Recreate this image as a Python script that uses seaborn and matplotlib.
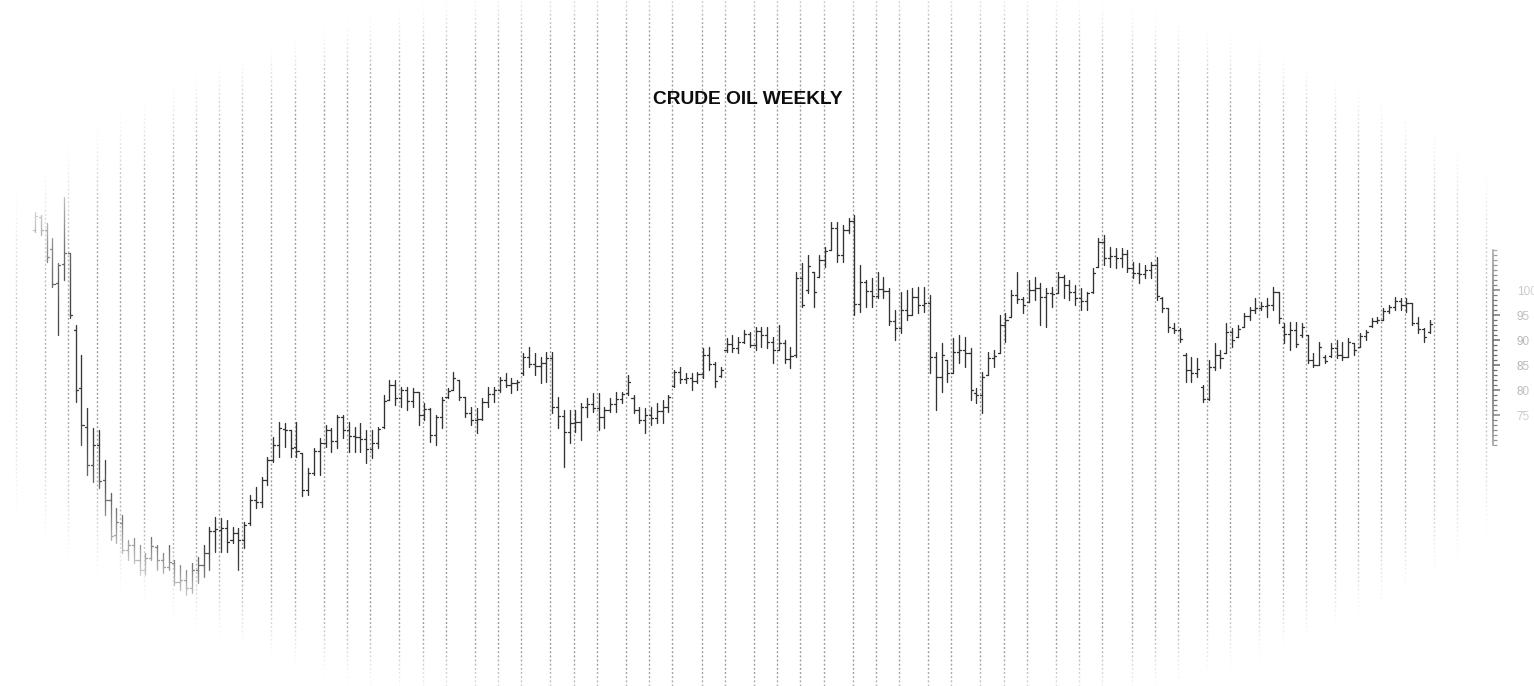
import numpy as np
import pandas as pd
import matplotlib
matplotlib.use("Agg")
import matplotlib.pyplot as plt
import seaborn as sns

TITLE = "CRUDE OIL WEEKLY"
FIRST_WEEK = "2008-08-22"

OPEN = [112.0,114.6,112.0,108.2,101.4,105.2,107.4,92.0,80.4,72.6,
        65.0,69.0,62.0,58.0,51.0,53.4,48.0,49.0,46.0,44.0,
        46.4,48.6,46.0,44.6,45.4,41.6,42.0,40.4,44.0,45.0,
        47.4,51.8,52.0,52.4,50.0,51.4,50.0,53.4,58.0,57.6,
        62.0,66.0,69.0,72.2,72.0,68.6,67.4,60.0,63.4,67.8,
        69.4,72.0,69.8,74.6,72.0,70.8,70.6,70.2,68.2,69.4,
        72.6,78.0,81.0,78.4,80.0,77.8,79.6,75.0,76.2,71.0,
        74.6,78.6,80.0,82.0,78.6,75.4,74.0,74.2,77.6,79.2,
        80.0,82.0,81.0,81.4,83.4,86.6,85.2,84.8,85.4,86.4,
        76.6,74.8,71.6,73.4,73.6,76.6,77.2,76.4,74.6,76.0,
        77.2,78.2,79.4,78.4,76.0,74.0,75.0,74.4,75.8,76.6,
        80.8,83.6,82.2,82.4,81.8,83.2,87.0,85.2,82.8,88.0,
        89.2,88.4,89.6,91.2,89.0,91.8,91.0,89.6,88.0,89.4,
        86.2,87.0,102.4,100.0,103.6,102.6,106.0,108.0,112.4,107.0,
        112.0,113.8,97.2,101.6,99.8,98.8,100.2,99.8,93.8,92.4,
        96.0,95.0,98.6,97.0,97.4,86.6,82.6,86.0,83.4,87.6,
        88.0,87.4,79.4,79.0,83.0,86.4,87.4,93.0,94.6,99.0,
        98.2,97.6,100.0,100.4,98.6,99.4,99.4,102.6,101.0,99.6,
        98.4,97.8,99.6,104.6,109.6,106.4,106.8,106.4,107.2,104.4,
        103.4,103.2,104.0,105.0,98.4,96.4,92.4,92.0,87.0,84.0,
        83.4,80.6,78.2,84.6,87.0,87.4,91.6,90.6,92.6,94.8,
        96.0,96.4,96.8,97.0,99.6,92.6,91.2,92.0,91.0,91.0,
        86.0,85.0,86.6,86.8,88.4,87.0,86.6,89.4,88.6,90.8,
        92.8,93.8,94.0,95.8,96.6,97.8,97.0,97.4,93.4,92.2,
        91.6]

HIGH = [115.6,115.0,113.4,110.4,105.4,118.6,107.4,93.0,87.0,76.4,
        72.4,72.0,66.0,59.4,56.4,55.0,50.0,50.4,49.0,47.4,
        50.6,49.0,47.4,49.0,46.0,45.0,44.0,45.4,46.6,49.0,
        52.6,54.6,54.4,54.0,52.6,52.4,53.6,59.0,60.6,62.6,
        66.6,70.6,73.6,73.4,72.0,73.6,67.4,64.4,68.4,70.4,
        73.0,72.4,75.0,75.0,73.6,72.6,73.4,72.0,72.0,72.6,
        79.0,82.0,82.0,80.6,80.6,80.4,79.6,77.4,76.4,75.0,
        78.6,80.4,83.6,82.0,78.6,76.6,76.4,78.4,80.6,80.6,
        82.6,83.4,82.4,82.0,87.4,88.6,87.4,86.6,87.6,87.6,
        78.6,76.0,76.0,76.0,77.4,78.4,79.4,79.4,76.6,78.4,
        79.6,79.6,83.0,79.0,76.6,76.4,76.6,77.4,78.0,79.0,
        84.0,84.6,83.4,83.4,83.6,88.4,88.6,85.6,84.6,90.4,
        91.0,90.6,92.0,91.6,92.6,92.6,92.6,90.6,93.0,90.0,
        88.6,103.6,105.4,107.0,103.6,107.0,108.6,113.6,113.6,113.0,
        114.4,115.0,105.0,102.0,102.4,103.6,102.6,100.4,96.0,99.6,
        100.0,100.4,100.6,100.6,99.0,87.6,89.4,86.0,90.4,91.0,
        90.6,88.4,80.4,83.6,87.6,88.0,95.0,95.4,100.0,103.6,
        98.6,102.0,102.6,101.4,100.4,100.6,103.6,103.0,102.0,101.0,
        100.4,99.6,104.4,110.4,111.0,108.6,108.4,108.4,108.0,105.6,
        105.4,105.0,105.6,106.6,98.6,96.4,93.4,92.4,87.4,86.6,
        86.4,81.0,86.0,89.4,88.0,93.4,92.4,93.0,95.4,96.6,
        98.4,97.6,98.4,100.6,99.6,93.4,93.6,93.6,93.4,91.0,
        87.4,89.6,87.0,89.4,90.0,89.6,90.4,89.4,91.4,92.0,
        94.4,94.6,96.4,97.0,98.6,98.4,98.4,97.4,94.6,92.4,
        94.0]

LOW = [111.6,111.0,105.6,100.6,91.0,102.0,94.4,77.6,69.0,63.0,
       61.6,60.4,55.0,50.0,49.4,47.4,46.0,45.4,43.0,43.0,
       46.0,44.0,43.4,44.0,41.0,40.0,39.0,39.4,41.4,42.6,
       44.0,47.6,47.6,47.6,49.4,44.0,48.4,53.0,56.4,56.6,
       61.0,65.6,66.6,68.6,66.6,66.6,58.8,59.0,63.0,63.0,
       68.6,67.6,68.4,70.4,67.6,67.6,67.6,65.4,66.4,68.4,
       72.4,78.0,77.0,76.6,76.0,76.6,73.0,74.0,69.6,69.0,
       72.4,78.4,80.0,78.0,74.6,73.0,71.4,74.0,76.6,77.6,
       79.6,80.6,79.4,80.0,83.0,84.6,83.0,81.4,81.6,75.4,
       72.4,64.6,69.4,71.6,70.0,74.6,75.6,72.0,72.4,75.6,
       75.6,77.4,79.0,75.4,73.4,71.4,73.0,73.4,73.4,75.6,
       80.6,81.4,81.4,80.0,81.4,82.4,84.0,80.6,82.6,87.6,
       87.6,87.4,89.4,88.6,88.0,88.6,88.4,85.4,88.0,85.4,
       84.4,86.6,96.6,99.4,96.6,102.6,104.6,108.0,105.6,105.6,
       111.4,95.0,95.6,96.6,96.6,98.4,98.4,93.0,90.0,91.4,
       94.0,95.0,95.4,95.6,83.4,76.0,79.6,81.6,83.6,85.4,
       84.6,78.0,77.4,75.4,83.0,84.6,87.4,89.6,94.6,97.4,
       95.4,97.6,98.0,93.0,92.6,96.6,99.4,98.4,98.0,97.0,
       96.0,96.0,99.4,104.6,105.0,104.6,104.4,104.6,103.6,102.4,
       101.4,102.4,102.4,98.0,95.6,91.6,91.4,89.6,81.6,81.6,
       82.6,77.6,78.0,84.0,84.4,87.4,88.6,90.6,92.6,94.0,
       95.4,96.0,94.6,96.0,93.4,89.4,88.0,88.6,90.6,85.4,
       84.6,85.0,85.4,86.6,86.4,86.0,86.6,87.0,88.6,90.0,
       92.6,93.4,94.0,95.4,96.0,96.0,95.6,93.0,91.4,89.6,
       91.4]

CLOSE = [114.8,112.0,106.6,101.2,105.0,107.4,95.0,80.0,73.0,65.0,
         69.0,61.8,58.0,50.8,53.6,48.0,49.0,46.0,44.0,46.4,
         48.8,46.0,44.6,45.6,41.6,42.0,40.4,44.0,45.0,47.4,
         51.8,52.2,52.4,49.6,51.4,50.0,53.0,58.0,57.6,62.0,
         66.0,69.0,72.4,72.0,68.4,67.8,60.0,63.4,67.8,69.4,
         72.0,69.8,74.6,72.0,70.8,70.6,70.2,68.2,69.4,72.2,
         77.8,81.0,78.4,80.0,77.8,79.6,75.0,76.2,71.0,74.6,
         78.0,79.8,82.4,78.6,75.4,74.0,74.2,77.6,79.2,80.0,
         82.0,81.0,81.4,81.6,86.6,85.2,84.8,85.4,86.4,76.6,
         74.8,71.6,73.4,73.6,76.6,77.2,76.4,74.6,76.0,77.2,
         78.2,79.2,81.6,76.0,74.0,75.0,74.4,75.8,76.6,78.6,
         83.6,82.2,82.4,81.8,83.2,87.0,85.2,81.8,84.0,89.2,
         88.4,89.6,91.2,89.0,91.8,91.0,89.6,88.0,89.4,86.2,
         86.8,102.4,97.0,104.8,99.6,106.0,107.8,112.4,107.0,112.0,
         113.8,97.2,101.6,99.8,98.8,100.2,99.8,93.8,92.4,96.0,
         95.0,98.6,97.0,97.4,86.6,82.6,87.0,83.4,87.6,88.0,
         87.4,80.0,79.0,82.6,86.4,86.8,93.0,94.0,99.0,98.2,
         97.0,100.0,100.4,98.6,99.4,99.2,102.6,101.0,99.6,98.4,
         97.8,99.4,103.4,109.6,106.4,106.8,106.4,107.2,104.4,103.4,
         103.2,104.0,105.0,98.8,96.4,92.6,92.0,90.2,84.0,83.4,
         84.2,78.2,84.6,87.0,86.4,91.6,90.0,92.2,94.8,96.0,
         96.4,96.8,97.0,99.6,94.4,91.2,92.0,89.2,92.6,86.0,
         85.0,88.6,85.8,88.4,87.0,86.6,89.6,88.0,90.8,91.6,
         93.8,94.0,95.8,96.6,97.8,97.0,97.4,93.4,92.2,90.6,
         93.2]

Y_MAJOR = [75, 80, 85, 90, 95, 100]
Y_MINOR_RANGE = (69, 108)

# ---------------------------------------------------------------- style
sns.set_theme(style="white")
plt.rcParams['font.family'] = ['Liberation Sans', 'DejaVu Sans']

W, H = 1534, 686
fig = plt.figure(figsize=(W / 100, H / 100), dpi=100, facecolor='white')
ax = fig.add_axes([0, 0, 1493 / W, 1])
ax.set_facecolor('white')

# ---------------------------------------------------------------- OHLC bars
rows = []
for i in range(len(CLOSE)):
    rows += [(i, LOW[i], 3 * i), (i, HIGH[i], 3 * i),
             (i - 0.36, OPEN[i], 3 * i + 1), (i, OPEN[i], 3 * i + 1),
             (i, CLOSE[i], 3 * i + 2), (i + 0.36, CLOSE[i], 3 * i + 2)]
df = pd.DataFrame(rows, columns=['week', 'price', 'seg'])
sns.lineplot(data=df, x='week', y='price', units='seg', estimator=None,
             sort=False, color='#333333', linewidth=0.95, ax=ax,
             legend=False, zorder=3)

# ---------------------------------------------------------------- axes
XMIN, XMAX = -6.02, 250.9
ax.set_xlim(XMIN, XMAX)
ax.set_ylim(158 - H / 5, 158)

# monthly grid lines at the first weekly bar of each month
start = pd.Timestamp(FIRST_WEEK) - pd.Timedelta(weeks=8)
dates = pd.date_range(start, periods=int(XMAX) + 12, freq='7D')
pos = np.arange(len(dates)) - 8
for k in range(1, len(dates)):
    if dates[k].month != dates[k - 1].month and XMIN < pos[k] < XMAX - 0.5:
        ax.axvline(pos[k] - 0.3, color='#999999', lw=1.0,
                   linestyle=(0, (1.4, 1.6)), zorder=1)

ax.set_xticks([])
ax.yaxis.tick_right()
ax.set_yticks(Y_MAJOR)
ax.set_yticks(np.arange(Y_MINOR_RANGE[0], Y_MINOR_RANGE[1] + 1, 1), minor=True)
ax.tick_params(axis='y', which='major', right=True, left=False, length=5,
               width=1.1, color='#1e1e1e', labelsize=8.5, labelcolor='#555555',
               pad=12)
ax.tick_params(axis='y', which='minor', right=True, left=False, length=3,
               width=0.9, color='#1e1e1e')
for s in ['left', 'top', 'bottom']:
    ax.spines[s].set_visible(False)
ax.spines['right'].set_color('#1e1e1e')
ax.spines['right'].set_linewidth(1.1)
ax.spines['right'].set_bounds(Y_MINOR_RANGE[0], Y_MINOR_RANGE[1])
ax.set_xlabel('')
ax.set_ylabel('')
ax.grid(False)

fig.text(748 / W, 1 - 100 / H, TITLE, ha='center', va='center',
         fontsize=13.8, fontweight='bold', color='#0d0d0d')

# ---------------------------------------------------------------- vignette
yy, xx = np.mgrid[0:H, 0:W] + 0.5
cx, cy = 767.0, 352.0
ax_semi = np.where(xx < cx, 800.0, 790.0)
r = np.sqrt(((xx - cx) / ax_semi) ** 2 + ((yy - cy) / 370.0) ** 2)
t = np.clip((r - 0.84) / (1.05 - 0.84), 0, 1)
alpha = t * t * (3 - 2 * t)
img = np.ones((H, W, 4))
img[..., 3] = alpha
vax = fig.add_axes([0, 0, 1, 1], zorder=10)
vax.imshow(img, extent=[0, W, H, 0], aspect='auto', interpolation='bilinear')
vax.set_xlim(0, W)
vax.set_ylim(H, 0)
vax.axis('off')

fig.savefig('out.png', dpi=100, facecolor='white')
